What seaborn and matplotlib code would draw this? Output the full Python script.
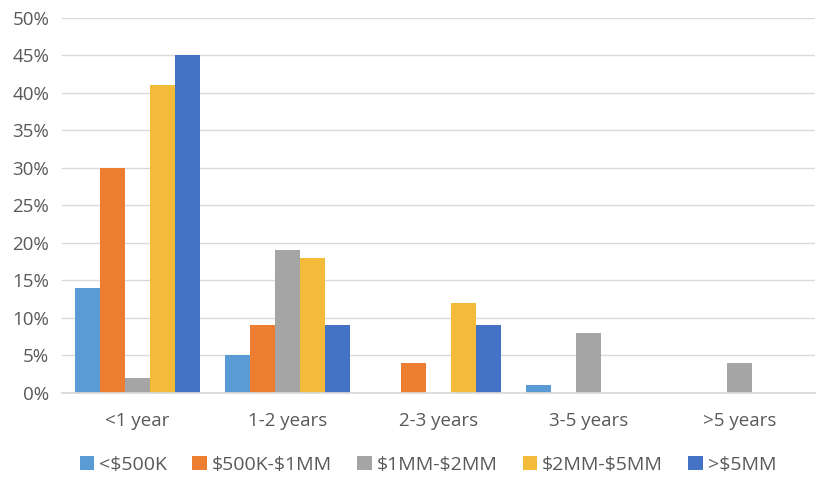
import numpy as np
import pandas as pd
import matplotlib
matplotlib.use("Agg")
import matplotlib.pyplot as plt
import seaborn as sns
from matplotlib.ticker import PercentFormatter

categories = ["<1 year", "1-2 years", "2-3 years", "3-5 years", ">5 years"]
series = ["<$500K", "$500K-$1MM", "$1MM-$2MM", "$2MM-$5MM", ">$5MM"]
v_lt500k = [14, 5, 0, 1, 0]
v_500k_1mm = [30, 9, 4, 0, 0]
v_1mm_2mm = [2, 19, 0, 8, 4]
v_2mm_5mm = [41, 18, 12, 0, 0]
v_gt5mm = [45, 9, 9, 0, 0]
colors = ["#5B9BD5", "#ED7D31", "#A5A5A5", "#F4BA3A", "#4472C4"]

vals = [v_lt500k, v_500k_1mm, v_1mm_2mm, v_2mm_5mm, v_gt5mm]
rows = []
for s, vs in zip(series, vals):
    for c, v in zip(categories, vs):
        rows.append({"cat": c, "series": s, "val": v})
df = pd.DataFrame(rows)

sns.set_theme(style="white")
plt.rcParams['font.family'] = ['Open Sans', 'DejaVu Sans']

fig = plt.figure(figsize=(8.23, 4.78), dpi=100)
ax = fig.add_axes([0.075, 0.178, 0.915, 0.785])
sns.barplot(data=df, x="cat", y="val", hue="series", order=categories,
            hue_order=series, palette=colors, width=0.83, saturation=1,
            ax=ax, legend=True, linewidth=0)
ax.set_ylim(0, 50)
ax.set_xlim(-0.5, 4.5)
ax.set_yticks(np.arange(0, 51, 5))
ax.yaxis.set_major_formatter(PercentFormatter(decimals=0))
ax.grid(axis="y", color="#D9D9D9", linewidth=1)
ax.set_axisbelow(True)
for sp in ["top", "right", "left"]:
    ax.spines[sp].set_visible(False)
ax.spines["bottom"].set_color("#D9D9D9")
ax.set_xlabel("")
ax.set_ylabel("")
ax.tick_params(axis="both", colors="#595959", labelsize=13.5, length=0, pad=9)
ax.tick_params(axis="x", pad=14)
handles, labels = ax.get_legend_handles_labels()
ax.legend_.remove()
labels = [l.replace("$", r"\$") for l in labels]
fig.legend(handles, labels, loc="center", bbox_to_anchor=(0.52, 0.027), ncol=5,
           frameon=False, fontsize=14, labelcolor="#595959", handlelength=0.75,
           handleheight=0.75, columnspacing=1.3, handletextpad=0.25)
fig.savefig("out.png", dpi=100)
